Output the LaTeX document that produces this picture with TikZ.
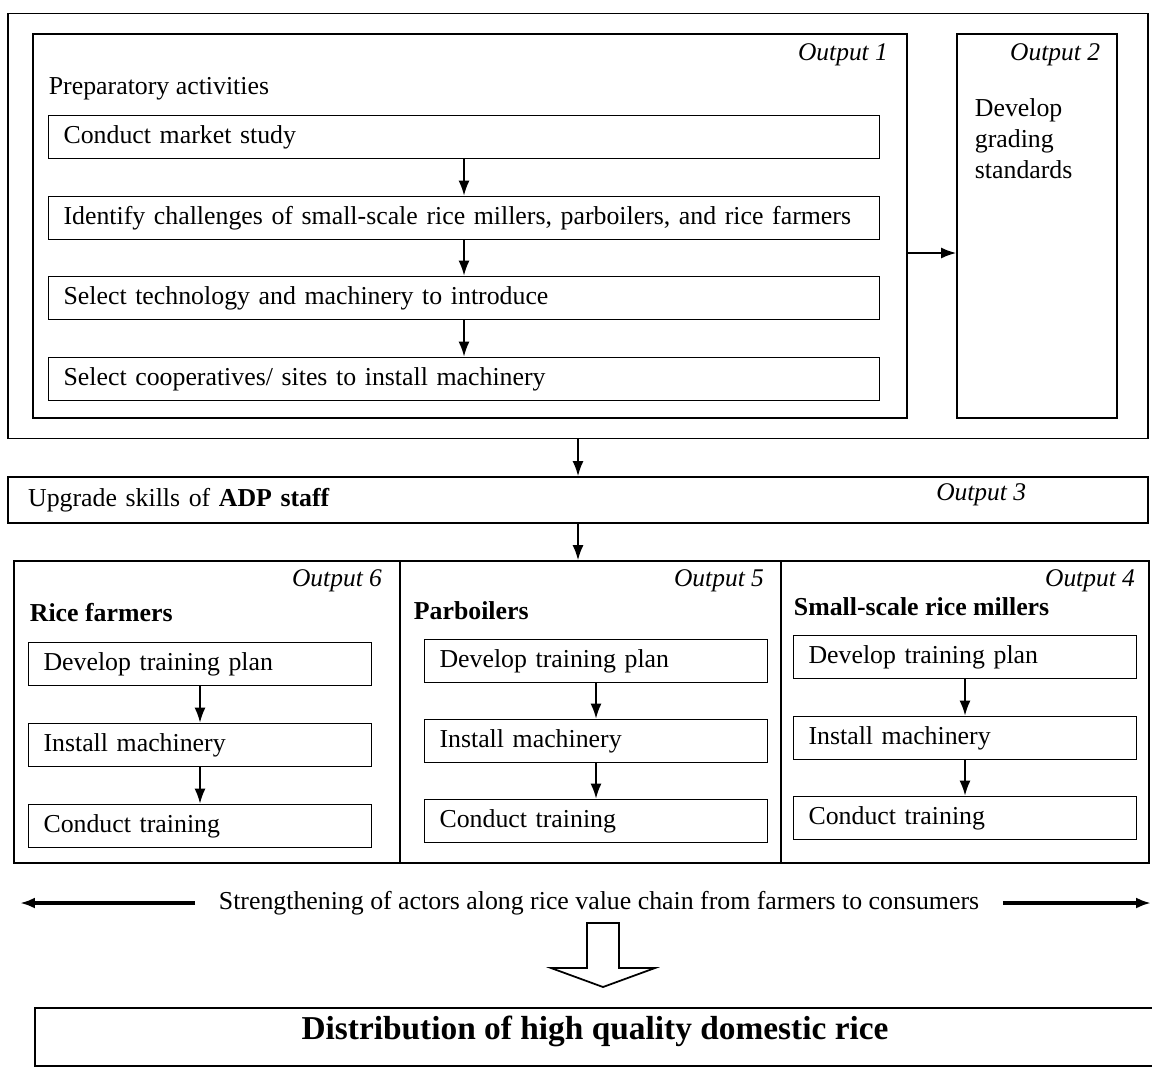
\documentclass[tikz,border=0pt]{standalone}
\usepackage{fontspec}
\setmainfont{Liberation Serif}
\usetikzlibrary{positioning,arrows.meta}
\begin{document}
\begin{tikzpicture}[x=0.02cm,y=-0.02cm,line width=1pt,line join=miter,>={Latex[length=0.3cm,width=0.22cm]},font=\fontsize{14.7}{17}\selectfont,
	stepbox/.style={draw,minimum height=0.86cm,inner xsep=0.3cm,inner ysep=0pt,align=left},
	groupbox/.style={draw,inner sep=0pt},
	outlbl/.style={font=\fontsize{14.5}{17}\selectfont\itshape,inner sep=0pt,anchor=north east}]
	\useasboundingbox (0,0) rectangle (1152,1073);
	\node[groupbox,minimum width=22.8cm,minimum height=8.5cm] (prep) at (578,226) {};
	\node[groupbox,minimum width=17.48cm,minimum height=7.68cm] (out1) at (470,226) {};
	\node[groupbox,minimum width=3.2cm,minimum height=7.68cm] (out2) at (1037,226) {};
	\node[outlbl] (lbl1) at ([xshift=-0.38cm,yshift=-0.2cm]out1.north east) {Output 1};
	\node[outlbl] (lbl2) at ([xshift=-0.34cm,yshift=-0.2cm]out2.north east) {Output 2};
	\node[anchor=west,inner sep=0pt] (pa) at (48,89) {Preparatory activities};
	\node[stepbox,text width=16.02cm] (m1) at (464,137) {Conduct market study};
	\node[stepbox,text width=16.02cm] (m2) at (464,218) {Identify challenges of small-scale rice millers, parboilers, and rice farmers};
	\node[stepbox,text width=16.02cm] (m3) at (464,298) {Select technology and machinery to introduce};
	\node[stepbox,text width=16.02cm] (m4) at (464,379) {Select cooperatives/ sites to install machinery};
	\node[anchor=north west,inner sep=0pt,align=left,font=\fontsize{14.7}{17.5}\selectfont] (grd) at (974,98) {Develop\\grading\\standards};
	\draw[->] (m1) -- (m2);
	\draw[->] (m2) -- (m3);
	\draw[->] (m3) -- (m4);
	\draw[->] ([yshift=-0.54cm]out1.east) -- ([yshift=-0.54cm]out2.west);
	\node[stepbox,minimum width=22.8cm,minimum height=0.92cm,inner xsep=0.4cm,text width=22cm] (out3) at (578,500) {Upgrade skills of \textbf{ADP staff}};
	\node[outlbl,anchor=east] (lbl3) at (1027,495) {Output 3};
	\draw[->] (prep) -- (out3);
	\node[groupbox,minimum width=7.72cm,minimum height=6.04cm] (col6) at (207,712) {};
	\node[groupbox,minimum width=7.62cm,minimum height=6.04cm] (col5) at (590.5,712) {};
	\node[groupbox,minimum width=7.36cm,minimum height=6.04cm] (col4) at (965,712) {};
	\draw[->] (out3) -- (out3 |- col5.north);
	\node[outlbl] (lbl6) at ([xshift=-0.36cm,yshift=-0.18cm]col6.north east) {Output 6};
	\node[outlbl] (lbl5) at ([xshift=-0.34cm,yshift=-0.18cm]col5.north east) {Output 5};
	\node[outlbl] (lbl4) at ([xshift=-0.28cm,yshift=-0.18cm]col4.north east) {Output 4};
	\node[anchor=west,inner sep=0pt,font=\fontsize{14.7}{17}\selectfont\bfseries] (hd6) at (29,613) {Rice farmers};
	\node[anchor=west,inner sep=0pt,font=\fontsize{14.7}{17}\selectfont\bfseries] (hd5) at (413,611) {Parboilers};
	\node[anchor=west,inner sep=0pt,font=\fontsize{14.7}{17}\selectfont\bfseries] (hd4) at (793,607) {Small-scale rice millers};
	\node[stepbox,text width=6.26cm] (dev6) at (200,664) {Develop training plan};
	\node[stepbox,text width=6.26cm] (ins6) at (200,745) {Install machinery};
	\node[stepbox,text width=6.26cm] (con6) at (200,826) {Conduct training};
	\node[stepbox,text width=6.26cm] (dev5) at (596,661) {Develop training plan};
	\node[stepbox,text width=6.26cm] (ins5) at (596,741) {Install machinery};
	\node[stepbox,text width=6.26cm] (con5) at (596,821) {Conduct training};
	\node[stepbox,text width=6.26cm] (dev4) at (965,657) {Develop training plan};
	\node[stepbox,text width=6.26cm] (ins4) at (965,738) {Install machinery};
	\node[stepbox,text width=6.26cm] (con4) at (965,818) {Conduct training};
	\draw[->] (dev6) -- (ins6);
	\draw[->] (ins6) -- (con6);
	\draw[->] (dev5) -- (ins5);
	\draw[->] (ins5) -- (con5);
	\draw[->] (dev4) -- (ins4);
	\draw[->] (ins4) -- (con4);
	\node[inner xsep=0.46cm] (chain) at (599,903) {Strengthening of actors along rice value chain from farmers to consumers};
	\coordinate (cl) at (20,903);
	\coordinate (cr) at (1151,903);
	\draw[->,line width=2pt] (chain.west) -- (cl);
	\draw[->,line width=2pt] (chain.east) -- (cr);
	\draw (587,923) -- (619,923) -- (619,968) -- (655,968) -- (603,987) -- (551,968) -- (587,968) -- cycle;
	\draw (1152,1008) -- (35,1008) -- (35,1066) -- (1152,1066);
	\node[font=\fontsize{19}{22}\selectfont\bfseries] (dist) at (595,1031) {Distribution of high quality domestic rice};
\end{tikzpicture}
\end{document}
